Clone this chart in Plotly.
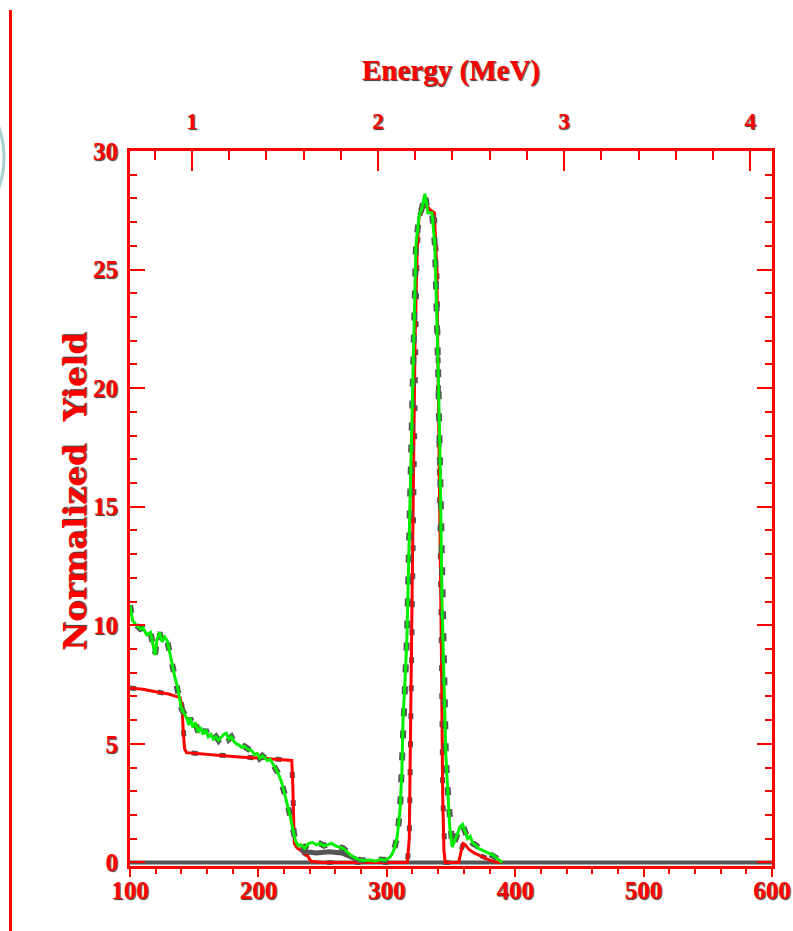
import plotly.graph_objects as go

# ---------------- data ----------------
channel_ticks = [100, 200, 300, 400, 500, 600]
energy_ticks = [1, 2, 3, 4]
yield_ticks = [0, 5, 10, 15, 20, 25, 30]

# energy calibration: channel = cal_offset + cal_gain * E(MeV)
cal_gain = 144.9
cal_offset = 3.4

# simulation (red)
sim_ch = [100, 110, 120, 130, 139, 140.5, 141.5, 142.5, 144, 155,
          170, 185, 200, 215, 226, 226.8, 227.4, 228, 230, 233,
          236, 238, 241, 250, 300, 316, 317.5, 319, 320.5, 322,
          323.5, 325, 328, 331, 334, 337, 339, 340, 341.5, 342.5,
          343.5, 344.5, 345.5, 350, 356, 358, 359.5, 361, 364, 368,
          372, 376, 380, 385, 390]
sim_y = [7.36, 7.3, 7.2, 7.1, 6.95, 6.6, 5.5, 4.8, 4.63, 4.58,
         4.5, 4.45, 4.4, 4.35, 4.3, 3.2, 1.6, 0.8, 0.62, 0.5,
         0.4, 0.3, 0.05, 0, 0, 0, 1.0, 8, 16, 22,
         25.5, 27.2, 27.6, 27.7, 27.5, 27.4, 25, 21, 15, 9,
         3, 0.5, 0, 0, 0, 0.5, 0.8, 0.75, 0.55, 0.4,
         0.3, 0.2, 0.1, 0.02, 0]

# measured spectrum (green)
exp_ch = [100, 102, 105, 108, 110, 113, 116, 118, 119.5, 121,
          123, 125, 127, 129, 131, 133, 135, 137, 139, 140,
          142, 144, 146, 147, 149, 151, 153, 155, 157, 159,
          161, 163, 165, 167, 169, 171, 173, 175, 177, 179,
          181, 183, 185, 187, 189, 191, 193, 195, 197, 199,
          201, 203, 205, 207, 209, 211, 213, 215, 217, 219,
          221, 223, 225, 227, 229, 231, 233, 236, 239, 242,
          245, 248, 251, 254, 257, 260, 263, 266, 269, 272,
          275, 279, 283, 287, 291, 295, 299, 302, 304, 306,
          308, 310.3, 311.8, 312.6, 314.2, 315.7, 318, 320.4, 322.7, 325,
          327.4, 329.7, 332, 335.2, 337.5, 339.9, 341.5, 343, 344.5, 346,
          347.5, 349, 351, 353, 355, 357, 359, 361, 363, 365,
          367, 369, 371, 373, 375, 377, 379, 381, 383, 385,
          387, 389, 390]
exp_y = [10.85, 10.2, 10.0, 9.85, 9.9, 9.6, 9.7, 9.2, 8.75, 9.4,
         9.7, 9.3, 9.5, 9.35, 8.8, 8.3, 7.8, 7.4, 6.8, 6.5,
         6.3, 6.1, 5.8, 6.1, 5.7, 5.9, 5.5, 5.7, 5.4, 5.6,
         5.3, 5.4, 5.2, 5.3, 5.15, 5.3, 5.4, 5.45, 5.2, 5.3,
         5.1, 5.0, 4.95, 4.85, 4.9, 4.8, 4.75, 4.7, 4.55, 4.6,
         4.4, 4.5, 4.4, 4.3, 4.35, 4.2, 4.0, 3.8, 3.55, 3.2,
         2.8, 2.4, 1.9, 1.35, 0.9, 0.7, 0.75, 0.6, 0.8, 0.85,
         0.75, 0.8, 0.7, 0.75, 0.8, 0.7, 0.65, 0.6, 0.45, 0.3,
         0.2, 0.1, 0.08, 0.1, 0.05, 0.12, 0.1, 0.2, 0.34, 0.6,
         1.05, 2.2, 3.9, 6.0, 7.7, 9.5, 15, 21.2, 26, 27.2,
         27.6, 28.2, 27.4, 27.4, 26, 21, 17, 11, 8, 4.5,
         3.0, 1.5, 0.65, 0.9, 1.2, 1.5, 1.6, 1.3, 1.0, 1.1,
         0.8, 0.75, 0.6, 0.55, 0.5, 0.45, 0.4, 0.35, 0.3, 0.2,
         0.1, 0.03, 0.0]

# second (grey) trace of the measurement where it separates from the green one
grey_ch = [233, 237, 245, 255, 265, 270, 275, 280]
grey_y = [0.55, 0.45, 0.4, 0.45, 0.4, 0.3, 0.15, 0.05]

# flat grey background level across the whole range
base_ch = [100, 600]
base_y = [0, 0]

assert len(sim_ch) == len(sim_y)
assert len(exp_ch) == len(exp_y)

# ---------------- figure ----------------
RED = "#ff0000"
GREEN = "#00ee00"
GREY = "#555555"
W, H = 793, 931
ML, MR, MT, MB = 130, 21, 151, 65
PW, PH = W - ML - MR, H - MT - MB

serif = "Liberation Serif"
shadow = "1px 1px 1px #333333"

fig = go.Figure()

fig.add_trace(go.Scatter(x=base_ch, y=base_y, mode="lines",
                         line=dict(color=GREY, width=4), hoverinfo="skip", showlegend=False))
fig.add_trace(go.Scatter(x=sim_ch, y=sim_y, mode="lines",
                         line=dict(color=GREY, width=5, dash="6px,22px"), hoverinfo="skip", showlegend=False))
fig.add_trace(go.Scatter(x=sim_ch, y=sim_y, mode="lines",
                         line=dict(color=RED, width=3), name="simulation", showlegend=False))
fig.add_trace(go.Scatter(x=grey_ch, y=grey_y, mode="lines",
                         line=dict(color=GREY, width=5), hoverinfo="skip", showlegend=False))
fig.add_trace(go.Scatter(x=exp_ch, y=exp_y, mode="lines",
                         line=dict(color=GREY, width=6, dash="8px,14px"), hoverinfo="skip", showlegend=False))
fig.add_trace(go.Scatter(x=exp_ch, y=exp_y, mode="lines",
                         line=dict(color=GREEN, width=3), name="data", showlegend=False))

# invisible trace to anchor the top energy axis
e_lo = (100 - cal_offset) / cal_gain
e_hi = (600 - cal_offset) / cal_gain
fig.add_trace(go.Scatter(x=[e_lo, e_hi], y=[0, 0], xaxis="x2", mode="markers",
                         marker=dict(opacity=0), hoverinfo="skip", showlegend=False))

tickfont = dict(family=serif, size=25, color=RED, weight="bold", shadow=shadow)

fig.update_layout(
    width=W, height=H,
    margin=dict(l=ML, r=MR, t=MT, b=MB, autoexpand=False),
    paper_bgcolor="white", plot_bgcolor="white",
    showlegend=False,
    xaxis=dict(
        range=[100, 600], tickmode="array", tickvals=channel_ticks,
        ticks="outside", ticklen=8, tickwidth=2, tickcolor=RED,
        minor=dict(tickmode="linear", tick0=100, dtick=20, ticks="outside",
                   ticklen=5, tickwidth=2, tickcolor=RED),
        showline=True, linecolor=RED, linewidth=3, mirror=False,
        showgrid=False, zeroline=False, tickfont=tickfont, automargin=False,
        ticklabelstandoff=-8,
    ),
    xaxis2=dict(
        overlaying="x", side="top", anchor="y",
        range=[e_lo, e_hi], tickmode="array", tickvals=energy_ticks,
        ticks="inside", ticklen=20, tickwidth=2, tickcolor=RED,
        minor=dict(tickmode="linear", tick0=0, dtick=0.2, ticks="inside",
                   ticklen=9, tickwidth=2, tickcolor=RED),
        showline=True, linecolor=RED, linewidth=3,
        showgrid=False, zeroline=False, automargin=False,
        tickfont=dict(family=serif, size=23, color=RED, weight="bold", shadow=shadow),
        ticklabelstandoff=10,
        title=dict(text="Energy (MeV)", standoff=20,
                   font=dict(family=serif, size=29, color=RED, weight="bold", shadow=shadow)),
    ),
    yaxis=dict(
        range=[-0.15, 30], tickmode="array", tickvals=yield_ticks,
        ticks="inside", ticklen=15, tickwidth=2, tickcolor=RED,
        minor=dict(tickmode="linear", tick0=0, dtick=1, ticks="inside",
                   ticklen=7, tickwidth=2, tickcolor=RED),
        showline=True, linecolor=RED, linewidth=3, mirror="ticks",
        showgrid=False, zeroline=False, tickfont=tickfont, automargin=False,
        ticklabelstandoff=4,
    ),
)


def pxx(px):
    return (px - ML) / PW


def pxy(py):
    return (H - MB - py) / PH


fig.add_annotation(
    text="Normalized  Yield", textangle=-90,
    xref="paper", yref="paper", x=pxx(75), y=pxy(492),
    xanchor="center", yanchor="middle", showarrow=False,
    font=dict(family="DejaVu Serif", size=32, color=RED, weight="bold", shadow=shadow),
)

shapes = [
    dict(type="line", xref="paper", yref="paper",
         x0=pxx(10.5), x1=pxx(10.5), y0=pxy(10), y1=pxy(H + 5),
         line=dict(color=RED, width=3)),
    dict(type="circle", xref="paper", yref="paper",
         x0=pxx(-130), x1=pxx(4), y0=pxy(235), y1=pxy(80),
         line=dict(color="#a9d3d3", width=3)),
]
fig.update_layout(shapes=shapes)

fig.write_html("out.html")
